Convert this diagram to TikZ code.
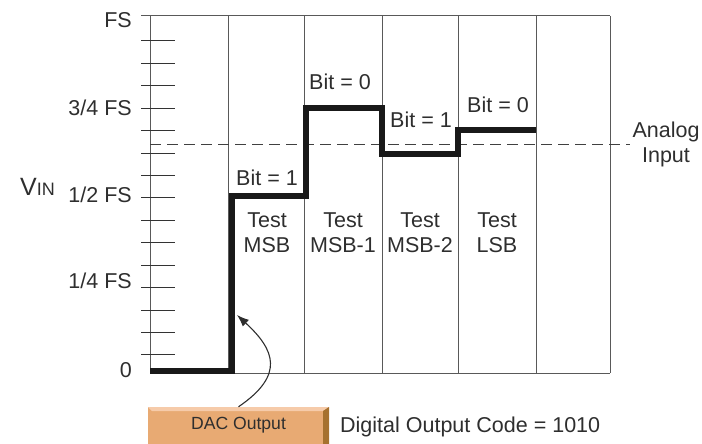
\documentclass[tikz,border=0pt]{standalone}
\usepackage{fontspec}
\setmainfont{Liberation Sans}
\usepackage{xcolor}
\usetikzlibrary{arrows.meta,positioning}

\definecolor{inkgray}{HTML}{2E2E2E}
\definecolor{dacfill}{HTML}{E8AA73}
\definecolor{daclight}{HTML}{F6CBAA}
\definecolor{dacdark}{HTML}{A6712F}

\begin{document}
\begin{tikzpicture}[
    x=1pt, y=-1pt,
    grid/.style={draw=black!65, line width=1pt},
    tick/.style={draw=black!80, line width=1pt},
    level/.style={draw=black!90, line width=5.5pt, line join=miter},
    refline/.style={draw=black!75, line width=0.9pt, dash pattern=on 11pt off 6pt},
    lbl/.style={font=\fontsize{21.5}{25}\selectfont, text=inkgray, inner sep=0pt, align=center},
    dacbox/.style={rectangle, fill=dacfill, minimum width=181pt, minimum height=37pt, inner sep=0pt, font=\fontsize{17.6}{20}\selectfont, text=inkgray},
    arr/.style={-{Latex[length=12pt, width=9pt]}, draw=inkgray, line width=1.1pt}
]
\useasboundingbox (0,0) rectangle (702,444);

\draw[grid] (141,16) -- (610,16);
\draw[grid] (150,373) -- (610,373);
\draw[grid] (150,16) -- (150,373);
\foreach \xc in {228,304,382,458,536,610}
    \draw[grid] (\xc,16) -- (\xc,373);
\foreach \k in {1,...,15}
    \draw[tick] (141,{377.4-22.43*\k}) -- (175,{377.4-22.43*\k});

\draw[refline] (150,144) -- (630,144);

\draw[level] (150,371) -- (232,371) -- (232,196) -- (306,196) -- (306,108)
    -- (382,108) -- (382,154) -- (458,154) -- (458,130) -- (536,130);

\node[lbl, anchor=base east] (fs) at (132,28) {FS};
\node[lbl, anchor=base east] (fs34) at (132,115) {3/4 FS};
\node[lbl, anchor=base east] (fs12) at (132,202) {1/2 FS};
\node[lbl, anchor=base east] (fs14) at (132,288) {1/4 FS};
\node[lbl, anchor=base east] (zero) at (132,377) {0};
\node[lbl, anchor=base west] (vin) at (20,195) {{\fontsize{25}{25}\selectfont V}{\fontsize{18}{18}\selectfont IN}};

\node[lbl, anchor=base] (bit1) at (267,185) {Bit = 1};
\node[lbl, anchor=base] (bit2) at (340,90) {Bit = 0};
\node[lbl, anchor=base] (bit3) at (421,128) {Bit = 1};
\node[lbl, anchor=base] (bit4) at (498,112) {Bit = 0};

\node[lbl, anchor=base] (msb) at (267,252) {Test\\MSB};
\node[lbl, anchor=base] (msb1) at (343,252) {Test\\MSB-1};
\node[lbl, anchor=base] (msb2) at (420,252) {Test\\MSB-2};
\node[lbl, anchor=base] (lsb) at (497,252) {Test\\LSB};

\node[lbl, anchor=base] (analog) at (666,162) {Analog\\Input};

\node[dacbox] (dac) at (238.5,425.5) {DAC Output};
\fill[daclight] (148,407) -- (329,407) -- (323,411) -- (152,411) -- cycle;
\fill[dacdark] (329,407) -- (329,444) -- (323,444) -- (323,411) -- cycle;
\node[lbl, anchor=base west] (code) at (340,432) {Digital Output Code = 1010};

\coordinate (riser) at (237,315);
\draw[arr] (dac.north) .. controls (285,375) and (275,350) .. (riser);
\end{tikzpicture}
\end{document}
